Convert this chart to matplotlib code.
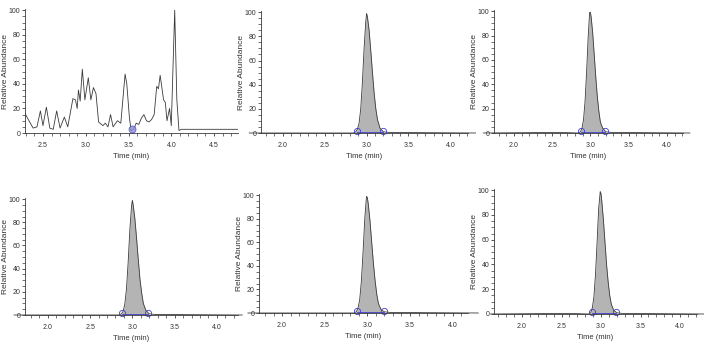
import matplotlib
matplotlib.use('Agg')
import matplotlib.pyplot as plt
from matplotlib.ticker import MultipleLocator, FormatStrFormatter

plt.rcParams['font.family'] = ['Liberation Sans', 'DejaVu Sans']

# panel 1: full chromatogram trace (time, relative abundance)
trace_t = [2.29, 2.32, 2.385, 2.43, 2.47, 2.50, 2.54, 2.58, 2.62, 2.66, 2.70,
           2.75, 2.79, 2.85, 2.88, 2.90, 2.915, 2.935, 2.96, 2.99, 3.03, 3.06,
           3.09, 3.12, 3.15, 3.20, 3.23, 3.26, 3.29, 3.32, 3.37, 3.41, 3.46,
           3.48, 3.51, 3.53, 3.56, 3.59, 3.62, 3.65, 3.68, 3.71, 3.74, 3.77,
           3.80, 3.83, 3.85, 3.87, 3.89, 3.91, 3.93, 3.95, 3.98, 4.00, 4.04,
           4.065, 4.09, 4.12, 4.78]
trace_v = [16, 12, 4, 5, 18, 6, 21, 4, 3, 18, 4,
           13, 5, 28, 27, 20, 35, 26, 52, 27, 45, 27,
           37, 32, 9, 6, 8, 5, 15, 5, 10, 8, 48,
           40, 13, 2, 3, 8, 7, 12, 15, 10, 9, 11,
           15, 38, 36, 47, 37, 27, 25, 10, 20, 6, 100,
           27, 2, 3, 3]
trace_mark_t = [3.54]
trace_mark_v = [3]

# panels 2-6: single peak (shared time grid, one intensity list per panel)
peak_t = [1.60, 2.60, 2.84, 2.87, 2.89, 2.91, 2.93, 2.95, 2.97, 2.99, 3.00,
          3.01, 3.03, 3.05, 3.07, 3.09, 3.11, 3.13, 3.16, 3.20, 3.26, 4.30]
peak_v2 = [0, 0, 0, 1, 3, 8, 20, 42, 70, 92, 99, 96, 85, 68, 50, 33, 20, 11, 4, 1, 0.5, 0]
peak_v3 = [0, 0.5, 0, 1, 4, 11, 26, 50, 78, 99, 99, 95, 82, 64, 46, 30, 18, 9, 4, 1, 0.5, 0]
peak_v4 = [0, 0, 0, 1, 3, 9, 22, 45, 73, 94, 99, 95, 83, 66, 48, 31, 19, 10, 4, 1, 0.5, 0]
peak_v5 = [0, 0, 0, 1, 4, 11, 27, 52, 80, 99, 98, 93, 79, 61, 43, 28, 16, 8, 3, 1, 0.5, 0]
peak_v6 = [0, 0.5, 0, 1, 5, 14, 32, 58, 85, 99, 97, 91, 76, 58, 40, 26, 15, 8, 3, 1, 0.5, 0]
peak_start = 2.88
peak_end = 3.19

peak_series = [peak_v2, peak_v3, peak_v4, peak_v5, peak_v6]

# axes placement in pixels (left, right, bottom, top) and x limits
fig_w, fig_h = 704, 346
boxes = [(25, 238, 133, 9), (261, 468, 133, 11), (494, 683, 133, 10),
         (25, 238, 315, 198), (259, 468, 313, 194), (494, 697, 314, 189)]
xlims = [(2.29, 4.78), (1.74, 4.21), (1.74, 4.21),
         (1.73, 4.25), (1.73, 4.18), (1.645, 4.215)]

line_col = '#3a3a3a'
fill_col = '#b4b4b4'
mark_col = '#4040c8'
txt_col = '#333333'
narrow = ['Liberation Sans Narrow', 'Liberation Sans', 'DejaVu Sans']

fig = plt.figure(figsize=(fig_w / 100, fig_h / 100), dpi=100)

for i, (box, xl) in enumerate(zip(boxes, xlims)):
    l, r, b, t = box
    ax = fig.add_axes([l / fig_w, 1 - b / fig_h, (r - l) / fig_w, (b - t) / fig_h])
    ax.set_xlim(*xl)
    ax.set_ylim(0, 101)

    if i == 0:
        ax.plot(trace_t, trace_v, color=line_col, lw=0.6)
        ax.plot(trace_mark_t, trace_mark_v, 'o', ms=5, mfc='#9090e0', mec=mark_col,
                mew=0.6, alpha=0.8, clip_on=False)
        ax.xaxis.set_major_locator(MultipleLocator(0.5))
    else:
        v = peak_series[i - 1]
        ax.plot(peak_t, v, color=line_col, lw=0.6, clip_on=False)
        ax.fill_between(peak_t, 0, v, where=[peak_start - 0.02 <= x <= peak_end + 0.01 for x in peak_t],
                        color=fill_col, lw=0, interpolate=True)
        ax.plot([peak_start, peak_end], [0.8, 0.8], color=mark_col, lw=0.6, clip_on=False)
        ax.plot([peak_start, peak_end], [1.5, 1.5], 'o', ms=4.5, mfc='none', mec=mark_col,
                mew=0.6, clip_on=False)
        ax.set_xticks([2.0, 2.5, 3.0, 3.5, 4.0])

    ax.xaxis.set_minor_locator(MultipleLocator(0.1))
    ax.set_yticks([0, 20, 40, 60, 80, 100])
    ax.yaxis.set_minor_locator(MultipleLocator(5))
    ax.xaxis.set_major_formatter(FormatStrFormatter('%.1f'))

    for side in ['top', 'right']:
        ax.spines[side].set_visible(False)
    for side in ['left', 'bottom']:
        ax.spines[side].set_linewidth(0.6)
        ax.spines[side].set_color(line_col)

    ax.tick_params(which='major', length=2.5, width=0.6, color=line_col,
                   labelsize=5, labelcolor=txt_col)
    ax.tick_params(axis='x', which='major', pad=4)
    ax.tick_params(axis='y', which='major', pad=0.8)
    ax.tick_params(which='minor', length=2, width=0.5, color=line_col)
    for lab in ax.get_xticklabels() + ax.get_yticklabels():
        lab.set_family(narrow)
    ax.set_xlabel('Time (min)', fontsize=5.5, color=txt_col, labelpad=3, family=narrow)
    ax.set_ylabel('Relative Abundance', fontsize=6, color=txt_col)
    ax.yaxis.set_label_coords(-16 / (r - l), 0.5)

fig.savefig('out.png', dpi=100, facecolor='white')
